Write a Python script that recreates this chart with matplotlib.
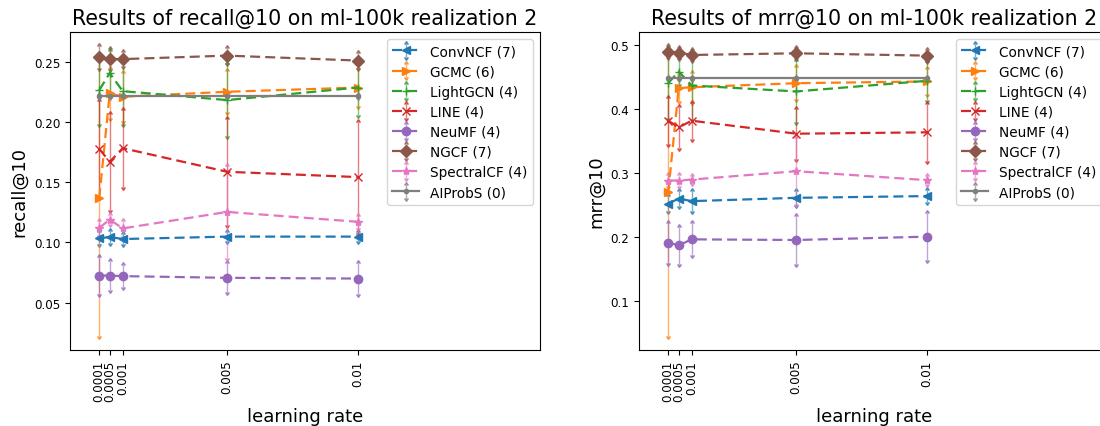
import numpy as np
import matplotlib
matplotlib.use("Agg")
import matplotlib.pyplot as plt
from matplotlib.legend_handler import HandlerErrorbar
from matplotlib.lines import Line2D

learning_rates = [0.0001, 0.0005, 0.001, 0.005, 0.01]
tick_labels = ["0.0001", "0.0005", "0.001", "0.005", "0.01"]

models = ["ConvNCF (7)", "GCMC (6)", "LightGCN (4)", "LINE (4)", "NeuMF (4)",
          "NGCF (7)", "SpectralCF (4)", "AIProbS (0)"]

# recall@10 means and errors
recall_convncf = [0.1033, 0.1044, 0.1027, 0.1047, 0.1047]
recall_convncf_err = [0.005, 0.005, 0.004, 0.004, 0.004]
recall_gcmc = [0.1366, 0.2235, 0.2208, 0.2249, 0.2284]
recall_gcmc_err = [0.114, 0.020, 0.020, 0.017, 0.015]
recall_lightgcn = [0.2262, 0.2404, 0.2254, 0.2180, 0.2284]
recall_lightgcn_err = [0.028, 0.018, 0.027, 0.030, 0.023]
recall_line = [0.1776, 0.1667, 0.1781, 0.1585, 0.1541]
recall_line_err = [0.040, 0.040, 0.032, 0.044, 0.046]
recall_neumf = [0.0724, 0.0724, 0.0719, 0.0705, 0.0699]
recall_neumf_err = [0.015, 0.012, 0.009, 0.012, 0.013]
recall_ngcf = [0.2535, 0.2520, 0.2520, 0.2549, 0.2508]
recall_ngcf_err = [0.009, 0.008, 0.006, 0.006, 0.006]
recall_spectralcf = [0.1120, 0.1188, 0.1115, 0.1252, 0.1170]
recall_spectralcf_err = [0.006, 0.004, 0.006, 0.038, 0.005]
recall_aiprobs = [0.2213, 0.2213, 0.2213, 0.2213, 0.2213]
recall_aiprobs_err = [0.001, 0.001, 0.001, 0.001, 0.001]

# mrr@10 means and errors
mrr_convncf = [0.2519, 0.2601, 0.2560, 0.2612, 0.2639]
mrr_convncf_err = [0.012, 0.011, 0.016, 0.011, 0.010]
mrr_gcmc = [0.2700, 0.4326, 0.4340, 0.4403, 0.4430]
mrr_gcmc_err = [0.224, 0.020, 0.023, 0.025, 0.019]
mrr_lightgcn = [0.4404, 0.4585, 0.4367, 0.4274, 0.4440]
mrr_lightgcn_err = [0.055, 0.020, 0.053, 0.047, 0.030]
mrr_line = [0.3817, 0.3713, 0.3817, 0.3614, 0.3635]
mrr_line_err = [0.036, 0.032, 0.028, 0.039, 0.045]
mrr_neumf = [0.1911, 0.1870, 0.1963, 0.1953, 0.2005]
mrr_neumf_err = [0.031, 0.029, 0.025, 0.038, 0.037]
mrr_ngcf = [0.4897, 0.4880, 0.4844, 0.4870, 0.4834]
mrr_ngcf_err = [0.008, 0.008, 0.008, 0.008, 0.008]
mrr_spectralcf = [0.2882, 0.2882, 0.2897, 0.3028, 0.2888]
mrr_spectralcf_err = [0.008, 0.008, 0.006, 0.052, 0.006]
mrr_aiprobs = [0.4480, 0.4480, 0.4480, 0.4480, 0.4480]
mrr_aiprobs_err = [0.001, 0.001, 0.001, 0.001, 0.001]

recall_series = [
    (recall_convncf, recall_convncf_err), (recall_gcmc, recall_gcmc_err),
    (recall_lightgcn, recall_lightgcn_err), (recall_line, recall_line_err),
    (recall_neumf, recall_neumf_err), (recall_ngcf, recall_ngcf_err),
    (recall_spectralcf, recall_spectralcf_err), (recall_aiprobs, recall_aiprobs_err),
]
mrr_series = [
    (mrr_convncf, mrr_convncf_err), (mrr_gcmc, mrr_gcmc_err),
    (mrr_lightgcn, mrr_lightgcn_err), (mrr_line, mrr_line_err),
    (mrr_neumf, mrr_neumf_err), (mrr_ngcf, mrr_ngcf_err),
    (mrr_spectralcf, mrr_spectralcf_err), (mrr_aiprobs, mrr_aiprobs_err),
]

colors = ["#1f77b4", "#ff7f0e", "#2ca02c", "#d62728", "#9467bd",
          "#8c564b", "#e377c2", "#7f7f7f"]
markers = ["<", ">", "+", "x", "o", "D", "*", "."]
styles = [(0, (4.5, 2.3))] * 7 + ["-"]


class CaretErrorbarHandler(HandlerErrorbar):
    def create_artists(self, legend, orig_handle, xdescent, ydescent,
                       width, height, fontsize, trans):
        artists = super().create_artists(legend, orig_handle, xdescent, ydescent,
                                         width, height, fontsize, trans)
        center = height / 2.0 - ydescent
        for a in artists:
            if isinstance(a, Line2D):
                yd = np.asarray(a.get_ydata(), dtype=float)
                if yd.size and a.get_marker() in (10, 11, "_"):
                    if yd[0] > center + 1e-6:
                        a.set_marker(10)
                    elif yd[0] < center - 1e-6:
                        a.set_marker(11)
        return artists


fig = plt.figure(figsize=(11, 4.27), dpi=100)
W, H = 1100.0, 427.0
ax1 = fig.add_axes([70 / W, 1 - 351 / H, 470 / W, 318 / H])
ax2 = fig.add_axes([639 / W, 1 - 351 / H, 470 / W, 318 / H])


def draw(ax, series, metric):
    for (vals, errs), name, c, m, ls in zip(series, models, colors, markers, styles):
        cont = ax.errorbar(learning_rates, vals, yerr=errs, fmt=m, linestyle=ls,
                           color=c, label=name, markersize=6,
                           linewidth=1.6, elinewidth=1.0, capsize=1.6,
                           ecolor=c)
        caps = cont.lines[1]
        if len(caps) == 2:
            caps[0].set_marker(11)
            caps[1].set_marker(10)
            for cl in caps:
                cl.set_alpha(0.7)
        for bl in cont.lines[2]:
            bl.set_alpha(0.6)
    ax.set_xlim(-0.00102, 0.01698)
    ax.set_xticks(learning_rates)
    ax.set_xticklabels(tick_labels, rotation=90, fontsize=8.6)
    ax.tick_params(axis="y", labelsize=8.6)
    ax.set_xlabel("learning rate", fontsize=13)
    ax.set_ylabel(metric, fontsize=13)
    ax.set_title(f"Results of {metric} on ml-100k realization 2", fontsize=14.8)
    ax.legend(loc="upper right", fontsize=9.8, labelspacing=0.45,
              handler_map={matplotlib.container.ErrorbarContainer: CaretErrorbarHandler()})


draw(ax1, recall_series, "recall@10")
draw(ax2, mrr_series, "mrr@10")
ax1.set_yticks([0.05, 0.10, 0.15, 0.20, 0.25])
ax2.set_yticks([0.1, 0.2, 0.3, 0.4, 0.5])

fig.savefig("out.png", dpi=100)
